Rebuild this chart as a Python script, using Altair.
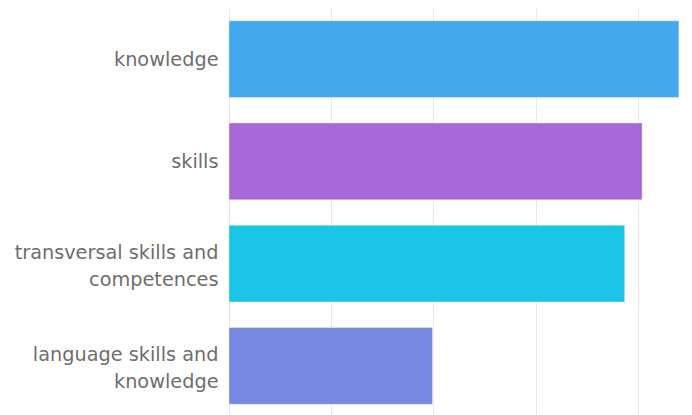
import altair as alt
import pandas as pd

categories = [
    "knowledge",
    "skills",
    "transversal skills and competences",
    "language skills and knowledge",
]
values = [4400, 4040, 3870, 1990]
colors = ["#43A9EC", "#A868D7", "#1BC5E8", "#7788E0"]
label_lines = [
    ["knowledge"],
    ["skills"],
    ["transversal skills and", "competences"],
    ["language skills and", "knowledge"],
]
x_ticks = [0, 1000, 2000, 3000, 4000]

df = pd.DataFrame({"category": categories, "value": values})

line_height = 27
parts = []
multi = []
for cat, lines in zip(categories, label_lines):
    arr = "[" + ",".join("'" + l + "'" for l in lines) + "]"
    parts.append(f"datum.label == '{cat}' ? {arr}")
    if len(lines) > 1:
        multi.append(f"datum.label == '{cat}'")
label_expr = " : ".join(parts) + " : datum.label"
multi_test = " || ".join(multi)

chart = (
    alt.Chart(df)
    .mark_bar(stroke="white", strokeOpacity=0.35, strokeWidth=1)
    .encode(
        x=alt.X(
            "value:Q",
            title=None,
            scale=alt.Scale(domain=[0, 4450], nice=False, zero=True),
            axis=alt.Axis(
                values=x_ticks,
                labels=False,
                ticks=False,
                domain=False,
                grid=True,
                gridColor="#e9e9e9",
                gridWidth=1,
            ),
        ),
        y=alt.Y(
            "category:N",
            title=None,
            sort=categories,
            scale=alt.Scale(paddingInner=0.25, paddingOuter=0.125),
            axis=alt.Axis(
                grid=False,
                ticks=False,
                domain=False,
                labelPadding=11,
                labelFontSize=19.3,
                labelFont="DejaVu Sans",
                labelColor="#6e6e6e",
                labelLimit=300,
                labelLineHeight=line_height,
                labelExpr=label_expr,
                labelOffset={
                    "condition": {"test": multi_test, "value": -11},
                    "value": 1,
                },
            ),
        ),
        color=alt.Color(
            "category:N",
            scale=alt.Scale(domain=categories, range=colors),
            legend=None,
        ),
    )
    .properties(
        width=455,
        height=409,
        autosize=alt.AutoSizeParams(type="none"),
        padding={"left": 221, "top": 0, "right": 0, "bottom": 0},
    )
    .configure_view(stroke=None)
)

chart.save("out.html", embed_options={"renderer": "svg", "actions": False})
